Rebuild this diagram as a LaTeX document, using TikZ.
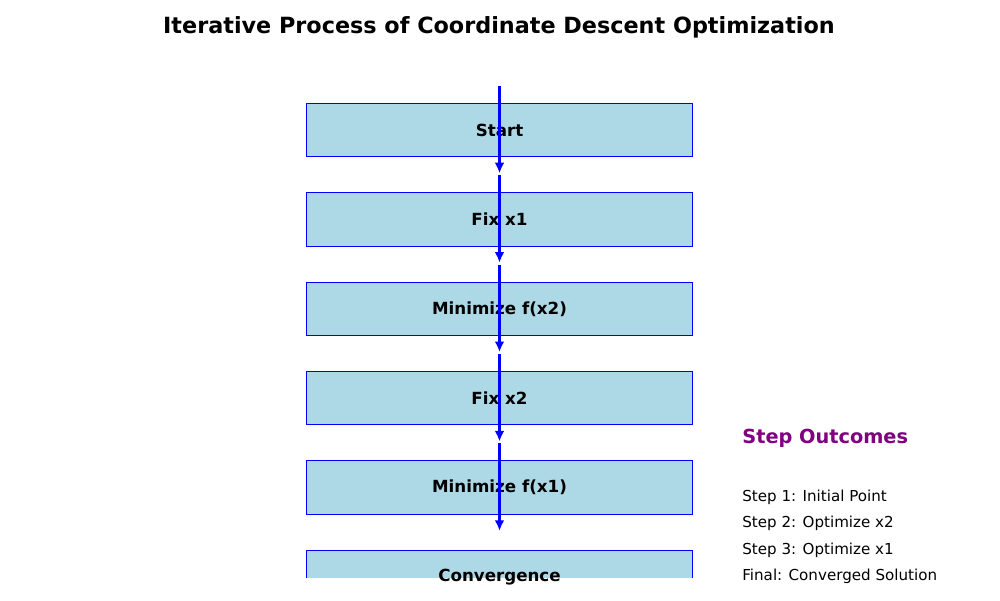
\documentclass[tikz,border=0pt]{standalone}
\usepackage{fontspec}
\setmainfont{DejaVu Sans}
\usepackage{tikz}
\usetikzlibrary{calc, arrows.meta}

\definecolor{boxblue}{RGB}{173,216,230}
\definecolor{headpurple}{RGB}{128,0,128}

\begin{document}
\begin{tikzpicture}[x=0.02cm, y=-0.02cm]

    \tikzstyle{stepbox}=[rectangle, draw=blue, fill=boxblue, line width=0.6pt, minimum width=7.74cm, minimum height=1.07cm, inner sep=0pt, font=\fontsize{9.5}{11}\selectfont\bfseries];
    \tikzstyle{flow}=[draw=blue, line width=1.3pt, -{Latex[length=6pt, width=5.5pt]}];
    \tikzstyle{outcome}=[anchor=west, inner sep=0pt, font=\fontsize{8.6}{10}\selectfont];

    \useasboundingbox (0,0) rectangle (1000,600);

    \node (title) at (499,27) {\fontsize{12.7}{14}\selectfont\bfseries Iterative Process of Coordinate Descent Optimization};

    \node[stepbox] (0) at (499.5,130) {Start};
    \node[stepbox] (1) at ($(0)+(0,89.4)$) {Fix x1};
    \node[stepbox] (2) at ($(1)+(0,89.4)$) {Minimize f(x2)};
    \node[stepbox] (3) at ($(2)+(0,89.4)$) {Fix x2};
    \node[stepbox] (4) at ($(3)+(0,89.4)$) {Minimize f(x1)};
    \begin{scope}
        \clip (0,0) rectangle (1000,577);
        \node[stepbox] (5) at ($(4)+(0,89.4)$) {};
    \end{scope}
    \node[font=\fontsize{9.5}{11}\selectfont\bfseries] (5t) at (5) {Convergence};

    % arrows run through the boxes
    \coordinate (s0) at ($(0.north)+(0,-17)$);
    \coordinate (e0) at ($(0.south)+(0,16)$);
    \coordinate (s1) at ($(1.north)+(0,-17)$);
    \coordinate (e1) at ($(1.south)+(0,16)$);
    \coordinate (s2) at ($(2.north)+(0,-17)$);
    \coordinate (e2) at ($(2.south)+(0,16)$);
    \coordinate (s3) at ($(3.north)+(0,-17)$);
    \coordinate (e3) at ($(3.south)+(0,16)$);
    \coordinate (s4) at ($(4.north)+(0,-17)$);
    \coordinate (e4) at ($(4.south)+(0,16)$);

    \draw[flow] (s0) -- (e0);
    \draw[flow] (s1) -- (e1);
    \draw[flow] (s2) -- (e2);
    \draw[flow] (s3) -- (e3);
    \draw[flow] (s4) -- (e4);

    \node[anchor=west, inner sep=0pt, text=headpurple, font=\fontsize{11}{13}\selectfont\bfseries] (head) at (742,438) {Step Outcomes};
    \node[outcome] (o1) at (742,497) {Step 1: Initial Point};
    \node[outcome] (o2) at ($(o1.west)+(0,26.6)$) {Step 2: Optimize x2};
    \node[outcome] (o3) at ($(o2.west)+(0,26.6)$) {Step 3: Optimize x1};
    \node[outcome] (o4) at ($(o3.west)+(0,26.6)$) {Final: Converged Solution};

\end{tikzpicture}
\end{document}
